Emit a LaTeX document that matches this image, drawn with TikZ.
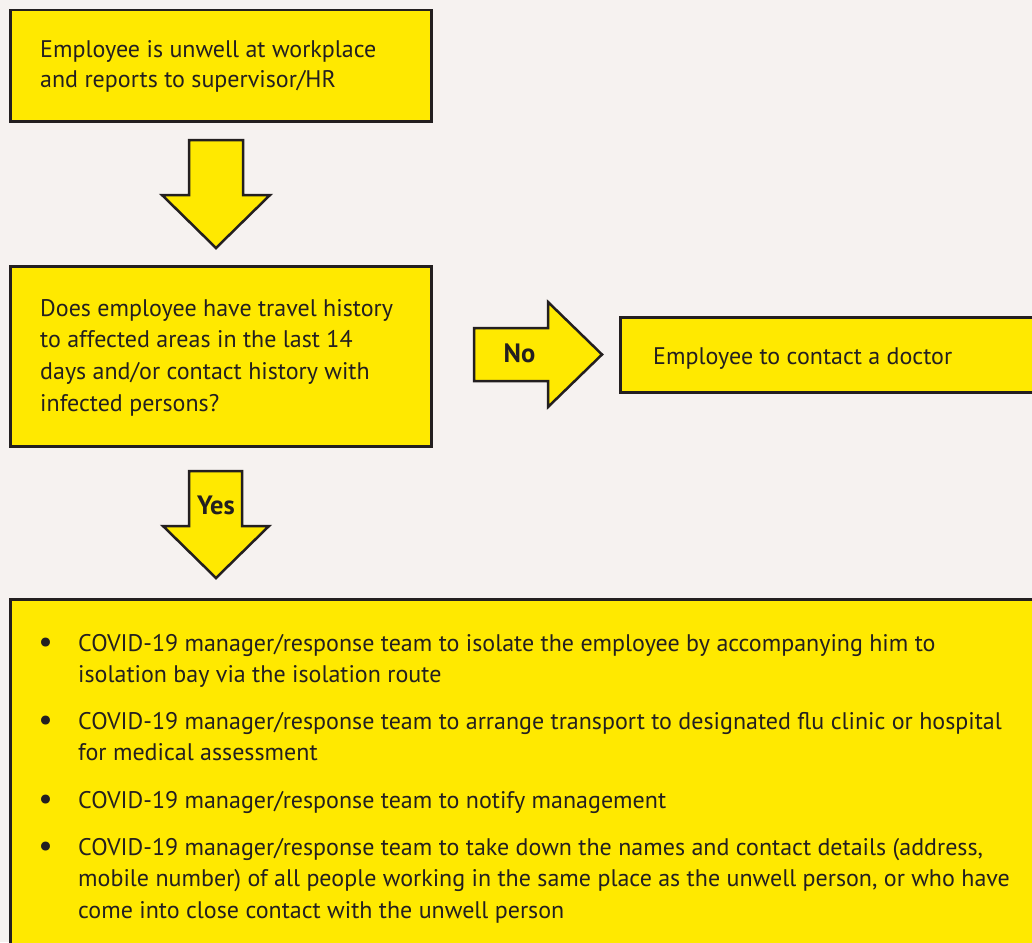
\documentclass[tikz,border=0pt]{standalone}
\usepackage{fontspec}
\setmainfont{PT Sans}
\definecolor{bg}{HTML}{F6F2F0}
\definecolor{yel}{HTML}{FFE900}
\definecolor{ink}{HTML}{231F20}
\newcommand{\bodyfont}{\fontsize{24}{31}\selectfont}
\begin{document}
\begin{tikzpicture}[x=1pt,y=-1pt,
  box/.style={draw=ink, line width=2.5pt, fill=yel, inner sep=0pt, anchor=north west},
  blockarrow/.style={draw=ink, line width=2.5pt, fill=yel, line join=miter},
  txt/.style={anchor=base west, inner sep=0pt, text=ink, font=\bodyfont},
  bul/.style={anchor=base, inner sep=0pt, text=ink, font=\fontsize{32}{31}\selectfont},
  lbl/.style={anchor=base, inner sep=0pt, text=ink, font=\fontsize{26.5}{31}\selectfont\bfseries}]
\useasboundingbox (0,0) rectangle (1032,942);
\clip (0,0) rectangle (1032,942);
\fill[bg] (0,0) rectangle (1032,942);

% boxes
\node[box, minimum width=421pt, minimum height=111pt] (b1) at (9,9) {};
\node[box, minimum width=421pt, minimum height=180pt] (b2) at (9,265) {};
\node[box, minimum width=430pt, minimum height=75pt] (b3) at (619,316) {};
\node[box, minimum width=1040pt, minimum height=360pt] (b4) at (9,598) {};

% block arrows
\draw[blockarrow] (189,140) -- (243,140) -- (243,195) -- (270,195) -- (216,248) -- (162,195) -- (189,195) -- cycle;
\draw[blockarrow] (474,328) -- (548,328) -- (548,302) -- (602,354.5) -- (548,407) -- (548,381) -- (474,381) -- cycle;
\draw[blockarrow] (189,471) -- (242,471) -- (242,526) -- (269,526) -- (216,578) -- (163,526) -- (189,526) -- cycle;

% labels
\node[lbl] (no) at (519.5,362) {No};
\node[lbl] (yes) at (216,514) {Yes};

% box texts
\node[txt] (t1a) at (40,57) {Employee is unwell at workplace};
\node[txt] (t1b) at (40,87.5) {and reports to supervisor/HR};

\node[txt] (t2a) at (40,316) {Does employee have travel history};
\node[txt] (t2b) at (40,347.5) {to affected areas in the last 14};
\node[txt] (t2c) at (40,379) {days and/or contact history with};
\node[txt] (t2d) at (40,411) {infected persons?};

\node[txt] (t3) at (653,364) {Employee to contact a doctor};

% bullets
\node[bul] (p1) at (45.5,652) {•};
\node[txt] (l1a) at (78,651) {COVID-19 manager/response team to isolate the employee by accompanying him to};
\node[txt] (l1b) at (78,682) {isolation bay via the isolation route};
\node[bul] (p2) at (45.5,730) {•};
\node[txt] (l2a) at (78,729) {COVID-19 manager/response team to arrange transport to designated flu clinic or hospital};
\node[txt] (l2b) at (78,760) {for medical assessment};
\node[bul] (p3) at (45.5,809) {•};
\node[txt] (l3a) at (78,808) {COVID-19 manager/response team to notify management};
\node[bul] (p4) at (45.5,856) {•};
\node[txt] (l4a) at (78,855) {COVID-19 manager/response team to take down the names and contact details (address,};
\node[txt] (l4b) at (78,886) {mobile number) of all people working in the same place as the unwell person, or who have};
\node[txt] (l4c) at (78,918) {come into close contact with the unwell person};
\end{tikzpicture}
\end{document}
